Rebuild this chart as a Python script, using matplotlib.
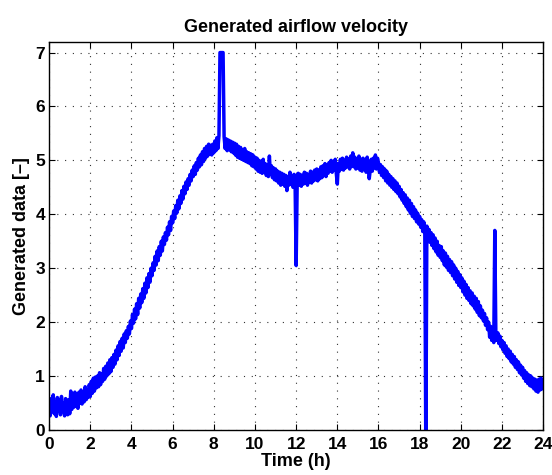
import numpy as np
import matplotlib.pyplot as plt

# readings every 0.05 h (one row per hour), spikes included
velocity = [
    0.38, 0.26, 0.58, 0.34, 0.65, 0.30, 0.52, 0.25, 0.60, 0.36, 0.55, 0.28, 0.62, 0.34, 0.50, 0.26, 0.58, 0.40, 0.28, 0.56,
    0.30, 0.72, 0.38, 0.66, 0.42, 0.70, 0.44, 0.64, 0.40, 0.70, 0.50, 0.74, 0.48, 0.68, 0.52, 0.80, 0.56, 0.74, 0.60, 0.84,
    0.62, 0.90, 0.68, 0.96, 0.72, 0.98, 0.78, 1.00, 0.80, 1.06, 0.84, 1.04, 0.90, 1.14, 0.94, 1.18, 1.00, 1.24, 1.04, 1.30,
    1.08, 1.34, 1.16, 1.40, 1.22, 1.48, 1.30, 1.56, 1.38, 1.64, 1.46, 1.70, 1.52, 1.78, 1.62, 1.84, 1.70, 1.92, 1.78, 2.02,
    1.88, 2.14, 1.98, 2.24, 2.06, 2.34, 2.14, 2.44, 2.26, 2.52, 2.36, 2.62, 2.44, 2.72, 2.54, 2.82, 2.64, 2.90, 2.74, 3.00,
    2.86, 3.10, 2.96, 3.22, 3.06, 3.32, 3.14, 3.40, 3.24, 3.50, 3.32, 3.58, 3.44, 3.66, 3.52, 3.76, 3.62, 3.86, 3.70, 3.96,
    3.84, 4.06, 3.92, 4.16, 4.02, 4.26, 4.10, 4.34, 4.20, 4.44, 4.28, 4.52, 4.38, 4.60, 4.46, 4.66, 4.54, 4.74, 4.62, 4.82,
    4.70, 4.90, 4.74, 4.96, 4.82, 5.04, 4.88, 5.10, 4.92, 5.16, 4.98, 5.22, 5.04, 5.26, 5.08, 5.30, 5.12, 5.28, 5.10, 5.30,
    5.14, 5.36, 5.18, 5.42, 5.22, 5.46, 7.00, 7.00, 7.00, 7.00, 5.44, 5.22, 5.40, 5.18, 5.38, 5.20, 5.36, 5.16, 5.34, 5.14,
    5.32, 5.10, 5.30, 5.06, 5.26, 5.04, 5.24, 5.02, 5.20, 5.00, 5.22, 4.98, 5.16, 4.96, 5.14, 4.94, 5.12, 4.90, 5.10, 4.88,
    5.06, 4.84, 5.04, 4.80, 5.00, 4.78, 4.98, 4.76, 5.02, 4.78, 4.94, 4.72, 4.92, 4.70, 5.08, 4.74, 4.90, 4.68, 4.86, 4.64,
    4.84, 4.62, 4.80, 4.58, 4.78, 4.54, 4.76, 4.56, 4.74, 4.52, 4.72, 4.44, 4.70, 4.54, 4.78, 4.56, 4.72, 4.50, 4.74, 4.54,
    3.05, 4.56, 4.76, 4.54, 4.74, 4.52, 4.72, 4.56, 4.78, 4.58, 4.76, 4.54, 4.74, 4.60, 4.80, 4.58, 4.78, 4.62, 4.82, 4.64,
    4.84, 4.62, 4.82, 4.66, 4.88, 4.68, 4.90, 4.72, 4.94, 4.70, 4.92, 4.76, 4.96, 4.80, 5.00, 4.78, 4.98, 4.82, 5.02, 4.76,
    4.56, 4.94, 4.80, 5.02, 4.84, 5.04, 4.82, 5.00, 4.86, 5.06, 4.88, 5.02, 4.84, 5.08, 4.90, 5.14, 4.88, 5.06, 4.84, 5.02,
    4.86, 5.08, 4.82, 5.02, 4.80, 5.04, 4.84, 5.00, 4.78, 5.06, 4.88, 4.66, 4.82, 5.02, 4.80, 5.04, 4.86, 5.10, 4.84, 5.04,
    4.96, 4.78, 4.92, 4.72, 4.88, 4.68, 4.84, 4.62, 4.80, 4.58, 4.74, 4.54, 4.70, 4.50, 4.66, 4.46, 4.62, 4.42, 4.58, 4.38,
    4.52, 4.32, 4.46, 4.26, 4.40, 4.20, 4.36, 4.14, 4.30, 4.08, 4.26, 4.02, 4.20, 3.96, 4.14, 3.92, 4.08, 3.86, 4.02, 3.82,
    3.96, 3.76, 3.90, 3.68, 3.86, 3.64, -0.50, 3.78, 3.54, 3.72, 3.48, 3.66, 3.42, 3.62, 3.36, 3.56, 3.30, 3.50, 3.24, 3.42,
    3.20, 3.40, 3.14, 3.32, 3.06, 3.28, 3.02, 3.22, 2.96, 3.16, 2.92, 3.12, 2.86, 3.06, 2.80, 3.00, 2.74, 2.94, 2.68, 2.88,
    2.64, 2.82, 2.56, 2.76, 2.50, 2.70, 2.44, 2.64, 2.40, 2.58, 2.34, 2.54, 2.30, 2.48, 2.24, 2.44, 2.18, 2.38, 2.12, 2.30,
    2.08, 2.22, 2.02, 2.16, 1.94, 2.08, 1.86, 2.00, 1.72, 1.92, 1.66, 1.86, 1.62, 3.70, 1.82, 1.66, 1.80, 1.60, 1.74, 1.54,
    1.66, 1.48, 1.62, 1.42, 1.56, 1.36, 1.50, 1.32, 1.46, 1.26, 1.40, 1.22, 1.36, 1.16, 1.30, 1.12, 1.26, 1.06, 1.20, 1.02,
    1.16, 0.96, 1.10, 0.90, 1.06, 0.86, 1.02, 0.82, 1.00, 0.80, 0.96, 0.76, 0.94, 0.72, 0.92, 0.70, 0.94, 0.74, 0.96, 0.76,
    0.86,
]
time_h = np.arange(len(velocity)) * 0.05

plt.rcParams['font.family'] = ['Liberation Sans', 'DejaVu Sans']
plt.rcParams['font.weight'] = 'bold'
plt.rcParams['path.simplify'] = False

fig = plt.figure(figsize=(5.52, 4.75), dpi=100)
ax = fig.add_axes([0.089, 0.095, 0.895, 0.817])

ax.plot(time_h, velocity, color='#0000ff', linewidth=2.5)

ax.set_xlim(0, 24)
ax.set_ylim(0, 7.2)
ax.set_xticks(np.arange(0, 25, 2))
ax.set_yticks(np.arange(0, 8, 1))
ax.grid(True, linestyle=(0, (1, 6)), color='#333333', linewidth=0.8)
ax.tick_params(direction='in', top=True, right=True, labelsize=12.5, length=4)
ax.tick_params(axis='x', pad=5)
ax.tick_params(axis='y', pad=3)
for lbl in ax.get_xticklabels() + ax.get_yticklabels():
    lbl.set_fontweight('bold')
for s in ax.spines.values():
    s.set_linewidth(1.0)

ax.set_title('Generated airflow velocity', fontsize=13, fontweight='bold', pad=7)
ax.set_xlabel('Time (h)', fontsize=13, fontweight='bold', labelpad=0.5)
ax.set_ylabel('Generated data [–]', fontsize=13, fontweight='bold', labelpad=4)

fig.savefig('out.png', dpi=100)
